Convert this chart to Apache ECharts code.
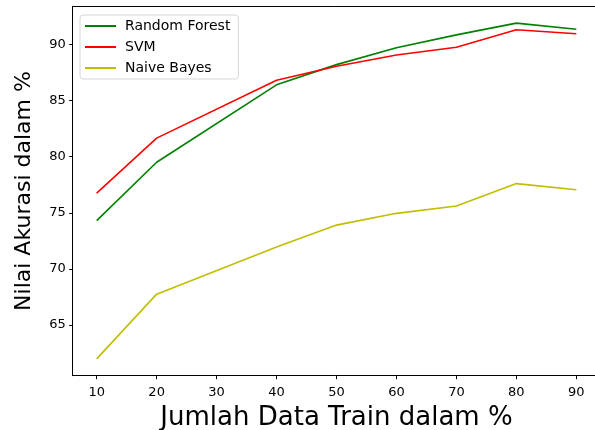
<!DOCTYPE html>
<html>
<head>
<meta charset="utf-8">
<script src="https://cdn.jsdelivr.net/npm/echarts@6/dist/echarts.min.js"></script>
<style>
html,body{margin:0;padding:0;background:#fff;}
#chart{width:595px;height:430px;}
</style>
</head>
<body>
<div id="chart"></div>
<script>
const xValues = [10, 20, 40, 50, 60, 70, 80, 90];
const randomForest = [74.3, 79.5, 86.4, 88.2, 89.7, 90.85, 91.9, 91.35];
const svm = [76.75, 81.65, 86.8, 88.05, 89.05, 89.75, 91.3, 90.95];
const naiveBayes = [61.98, 67.75, 71.95, 73.9, 74.95, 75.6, 77.6, 77.05];
const xTicks = [10, 20, 30, 40, 50, 60, 70, 80, 90];
const yTicks = [65, 70, 75, 80, 85, 90];
const seriesNames = ['Random Forest', 'SVM', 'Naive Bayes'];
const seriesColors = ['#008000', '#ff0000', '#bfbf00'];

function pairs(vals) { return xValues.map((x, i) => [x, vals[i]]); }

const allVals = randomForest.concat(svm, naiveBayes);
const dMin = Math.min(...allVals), dMax = Math.max(...allVals);
const pad = (dMax - dMin) * 0.05;

const font = 'DejaVu Sans';
const chart = echarts.init(document.getElementById('chart'), null, {renderer: 'canvas'});
chart.setOption({
  animation: false,
  backgroundColor: '#fff',
  grid: {left: 72.7, width: 527.6, top: 6.3, height: 369.4, containLabel: false, outerBoundsMode: 'none', show: false},
  legend: {
    show: true, orient: 'vertical', left: 80, top: 15,
    data: seriesNames,
    itemWidth: 31, itemHeight: 2, itemGap: 7,
    icon: 'rect',
    padding: [4, 8, 4, 5],
    borderColor: '#d6d6d6', borderWidth: 1, borderRadius: 3,
    backgroundColor: 'rgba(255,255,255,0.8)',
    textStyle: {fontFamily: font, fontSize: 14, color: '#000', padding: [0, 0, 0, 4]}
  },
  xAxis: [{
    type: 'value', min: 6, max: 94,
    name: 'Jumlah Data Train dalam %', nameLocation: 'middle', nameGap: 30,
    nameTextStyle: {fontFamily: font, fontSize: 26, color: '#000'},
    axisLine: {show: true, onZero: false, lineStyle: {color: '#000', width: 1}},
    axisTick: {show: true, length: 3.5, lineStyle: {color: '#000'}, customValues: xTicks},
    axisLabel: {fontFamily: font, fontSize: 13, color: '#000', margin: 10, customValues: xTicks},
    splitLine: {show: false}
  }, {
    type: 'value', position: 'top', min: 6, max: 94,
    axisLine: {show: true, onZero: false, lineStyle: {color: '#000', width: 1}},
    axisTick: {show: false}, axisLabel: {show: false}, splitLine: {show: false}
  }],
  yAxis: {
    type: 'value', min: dMin - pad, max: dMax + pad,
    name: 'Nilai Akurasi dalam %', nameLocation: 'middle', nameGap: 37,
    nameTextStyle: {fontFamily: font, fontSize: 22, color: '#000'},
    axisLine: {show: true, onZero: false, lineStyle: {color: '#000', width: 1}},
    axisTick: {show: true, length: 3.5, lineStyle: {color: '#000'}, customValues: yTicks},
    axisLabel: {fontFamily: font, fontSize: 13, color: '#000', margin: 7, customValues: yTicks},
    splitLine: {show: false}
  },
  series: [
    {name: seriesNames[0], type: 'line', data: pairs(randomForest), symbol: 'none', lineStyle: {color: seriesColors[0], width: 1.6}, itemStyle: {color: seriesColors[0]}},
    {name: seriesNames[1], type: 'line', data: pairs(svm), symbol: 'none', lineStyle: {color: seriesColors[1], width: 1.6}, itemStyle: {color: seriesColors[1]}},
    {name: seriesNames[2], type: 'line', data: pairs(naiveBayes), symbol: 'none', lineStyle: {color: seriesColors[2], width: 1.6}, itemStyle: {color: seriesColors[2]}}
  ]
});
</script>
</body>
</html>
